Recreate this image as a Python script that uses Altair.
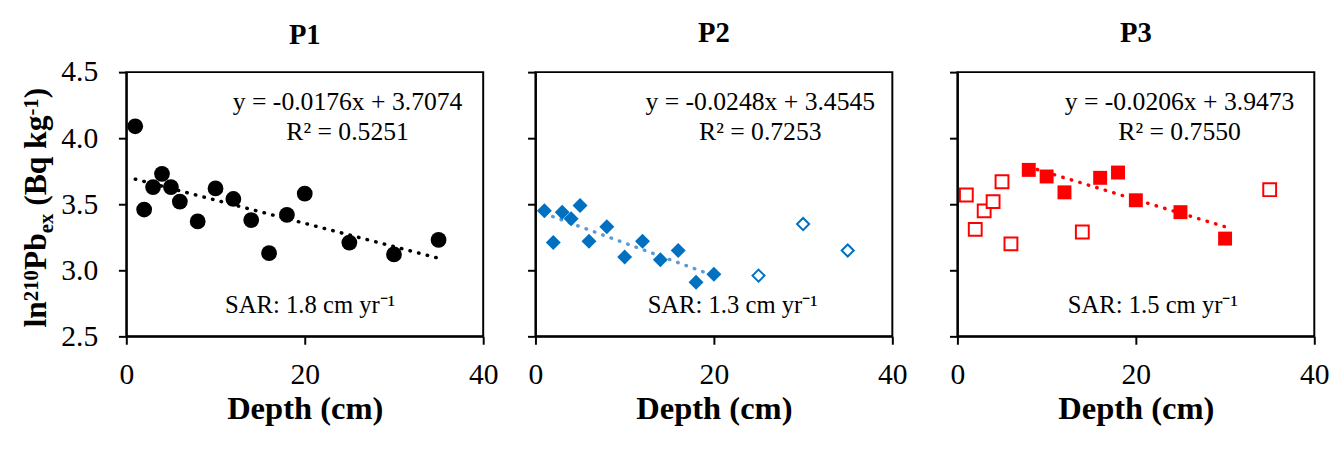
import altair as alt
import pandas as pd

# ---------------- data ----------------
panels = ["P1", "P2", "P3"]

p1_depth = [1, 2, 3, 4, 5, 6, 8, 10, 12, 14, 16, 18, 20, 25, 30, 35]
p1_value = [4.09, 3.46, 3.63, 3.73, 3.63, 3.52, 3.37, 3.62, 3.54, 3.38, 3.13, 3.42, 3.58, 3.21, 3.12, 3.23]

p2_depth = [1, 2, 3, 4, 5, 6, 8, 10, 12, 14, 16, 18, 20]
p2_value = [3.45, 3.21, 3.44, 3.39, 3.49, 3.22, 3.33, 3.10, 3.22, 3.08, 3.15, 2.91, 2.97]
p2_open_depth = [25, 30, 35]
p2_open_value = [2.96, 3.35, 3.15]

p3_depth = [8, 10, 12, 16, 18, 20, 25, 30]
p3_value = [3.76, 3.71, 3.59, 3.70, 3.74, 3.53, 3.44, 3.24]
p3_open_depth = [1, 2, 3, 4, 5, 6, 14, 35]
p3_open_value = [3.57, 3.31, 3.45, 3.52, 3.67, 3.20, 3.29, 3.61]

slopes = [-0.0176, -0.0248, -0.0206]
intercepts = [3.7074, 3.4545, 3.9473]
fit_start = [1, 1, 8]
fit_end = [35, 20, 30]
r2_values = ["0.5251", "0.7253", "0.7550"]
sar_values = ["1.8", "1.3", "1.5"]

x_ticks = [0, 20, 40]
y_ticks = [2.5, 3.0, 3.5, 4.0, 4.5]

# y-axis title pieces: (text, kind) kind: main / sup / sub
y_title_pieces = [("ln", "main"), ("210", "sup"), ("Pb", "main"), ("ex", "sub"),
                  ("(Bq kg", "main"), ("-1", "sup"), (")", "main")]

# annotation placement (data units)
eq_x = [24.8, 25.2, 24.9]
eq_y = [4.21, 4.21, 4.21]
r2_y = [3.99, 3.99, 3.99]
sar_x = [20.6, 22.1, 21.9]
sar_y = [2.68, 2.68, 2.68]

colors = ["#000000", "#0070C0", "#FF0000"]
trend_colors = ["#000000", "#5B9BD5", "#FF0000"]
shapes = ["circle", "diamond", "square"]
filled_sizes = [256, 230, 200]
open_sizes = [0, 150, 170]

SERIF = "Liberation Serif"
W, H = 362, 268
LABEL_FS = 30

filled_data = [(p1_depth, p1_value), (p2_depth, p2_value), (p3_depth, p3_value)]
open_data = [([], []), (p2_open_depth, p2_open_value), (p3_open_depth, p3_open_value)]

# Times/Liberation Serif Bold advance widths (em)
BOLD_W = {"l": 0.278, "n": 0.556, "P": 0.611, "b": 0.556, "e": 0.444, "x": 0.5,
          " ": 0.25, "(": 0.333, "B": 0.667, "q": 0.556, "k": 0.556, "g": 0.5,
          "-": 0.333, "1": 0.5, ")": 0.333, "2": 0.5, "0": 0.5}


def y_title_layers():
    main_fs, small_fs = 32, 21
    base_x = -81          # baseline offset left of plot area
    shift = {"main": 0, "sup": -9, "sub": 7}
    y = 259               # start (bottom) position, text runs upward
    out = []
    for txt, kind in y_title_pieces:
        fs = main_fs if kind == "main" else small_fs
        if txt.startswith("("):
            y -= BOLD_W[" "] * main_fs
        out.append(
            alt.Chart(pd.DataFrame({"t": [txt]})).mark_text(
                font=SERIF, fontSize=fs, fontWeight="bold", color="black",
                angle=270, align="left", baseline="alphabetic",
            ).encode(text="t:N", x=alt.value(base_x + shift[kind]), y=alt.value(y))
        )
        y -= sum(BOLD_W[c] for c in txt) * fs
    return out


def make_panel(i):
    x_scale = alt.Scale(domain=[0, 40], nice=False, zero=False)
    y_scale = alt.Scale(domain=[2.5, 4.5], nice=False, zero=False)
    first = i == 0
    x_enc = alt.X(
        "depth:Q", scale=x_scale,
        axis=alt.Axis(values=x_ticks, title="Depth (cm)", format="d",
                      labelFontSize=LABEL_FS, titleFontSize=33, titleFontWeight="bold",
                      labelPadding=16, titlePadding=3, labelFlush=False),
    )
    if first:
        y_axis = alt.Axis(values=y_ticks, format=".1f", title=None,
                          labelFontSize=LABEL_FS, labelPadding=21, labelFlush=False)
    else:
        y_axis = alt.Axis(values=y_ticks, labels=False, title=None)
    y_enc = alt.Y("value:Q", scale=y_scale, axis=y_axis)

    df_f = pd.DataFrame({"depth": filled_data[i][0], "value": filled_data[i][1]})
    layers = []

    # trend line
    xs = [fit_start[i], fit_end[i]]
    df_t = pd.DataFrame({"depth": xs, "value": [intercepts[i] + slopes[i] * x for x in xs]})
    layers.append(
        alt.Chart(df_t).mark_line(color=trend_colors[i], strokeWidth=3.5,
                                  strokeDash=[0.5, 8.5], strokeCap="round")
        .encode(x=x_enc, y=y_enc)
    )

    layers.append(
        alt.Chart(df_f).mark_point(shape=shapes[i], filled=True, opacity=1,
                                   color=colors[i], size=filled_sizes[i])
        .encode(x=x_enc, y=y_enc)
    )
    if open_data[i][0]:
        df_o = pd.DataFrame({"depth": open_data[i][0], "value": open_data[i][1]})
        layers.append(
            alt.Chart(df_o).mark_point(shape=shapes[i], filled=False, opacity=1,
                                       color=colors[i], fill="white", fillOpacity=1,
                                       strokeWidth=2, size=open_sizes[i])
            .encode(x=x_enc, y=y_enc)
        )

    sign = "-" if slopes[i] < 0 else ""
    df_eq = pd.DataFrame({
        "depth": [eq_x[i], eq_x[i]],
        "value": [eq_y[i], r2_y[i]],
        "label": [
            f"y = {sign}{abs(slopes[i]):.4f}x + {intercepts[i]:.4f}",
            f"R² = {r2_values[i]}",
        ],
    })
    layers.append(
        alt.Chart(df_eq).mark_text(font=SERIF, fontSize=26, color="black",
                                   align="center", baseline="alphabetic")
        .encode(x=x_enc, y=y_enc, text="label:N")
    )
    df_sar = pd.DataFrame({"depth": [sar_x[i]], "value": [sar_y[i]],
                           "label": [f"SAR: {sar_values[i]} cm yr⁻¹"]})
    layers.append(
        alt.Chart(df_sar).mark_text(font=SERIF, fontSize=25, color="black",
                                    align="center", baseline="alphabetic")
        .encode(x=x_enc, y=y_enc, text="label:N")
    )
    if first:
        layers.extend(y_title_layers())

    return alt.layer(*layers).properties(
        width=W, height=H,
        title=alt.TitleParams(panels[i], fontSize=29, fontWeight="bold", font=SERIF,
                              offset=8 if first else 24, anchor="middle", frame="group"),
    )


p1, p2, p3 = [make_panel(i) for i in range(3)]

chart = alt.hconcat(
    alt.hconcat(p1, p2, spacing=27),
    p3,
    spacing=40,
).properties(
    padding={"left": 12, "top": 7, "right": 5, "bottom": 5},
).configure(
    font=SERIF,
).configure_view(
    stroke="black", strokeWidth=2,
).configure_axis(
    labelFont=SERIF, titleFont=SERIF, labelColor="black", titleColor="black",
    domainColor="black", domainWidth=2, tickColor="black", tickWidth=2, tickSize=8,
    grid=False,
).configure_title(color="black")

chart.save("out.html", embed_options={"renderer": "svg", "actions": False})
